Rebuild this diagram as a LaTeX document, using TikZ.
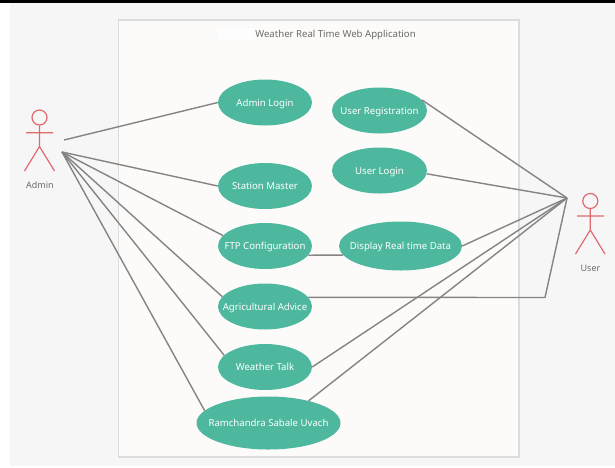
\documentclass[tikz,border=0pt]{standalone}
\usepackage{fontspec}
\setmainfont{Noto Sans}
\usetikzlibrary{shapes.geometric}
\definecolor{teal1}{HTML}{4DB89E}
\definecolor{pagebg}{HTML}{F6F6F7}
\definecolor{boxbg}{HTML}{FCFBFA}
\definecolor{boxline}{HTML}{DDDCDB}
\definecolor{actorred}{HTML}{DF6A6E}
\definecolor{linkgray}{HTML}{858483}
\definecolor{labelgray}{HTML}{6B6B6B}
\newcommand{\uclabel}[1]{\raisebox{-3.8pt}[0pt][0pt]{\makebox[0pt]{#1}}}
\tikzset{
  usecase/.style={ellipse,fill=teal1,text=white,inner sep=0pt,font=\fontsize{9.6}{11}\selectfont},
  link/.style={draw=linkgray,line width=1.4pt,line join=round},
  actorline/.style={draw=actorred,line width=1.2pt},
  caption/.style={text=labelgray,font=\fontsize{9}{11}\selectfont,inner sep=0pt},
}
\begin{document}
\begin{tikzpicture}[x=1pt,y=-1pt]
\useasboundingbox (0,0) rectangle (615,467);
\fill[white] (0,0) rectangle (615,467);
\fill[pagebg] (10,3) rectangle (615,466);
\fill[black] (0,0) rectangle (615,3);
\draw[fill=boxbg,draw=boxline,line width=1.1pt] (118.5,20) rectangle (519,457);
\fill[white!60!boxbg] (218,28) rectangle (255,40);
\node[caption,font=\fontsize{9.6}{11}\selectfont] (title) at (335.5,34.5) {Weather Real Time Web Application};

\node[usecase,minimum width=94pt,minimum height=46pt] (login) at (265,102.5) {\uclabel{Admin Login}};
\node[usecase,minimum width=94pt,minimum height=46pt] (station) at (265,186) {\uclabel{Station Master}};
\node[usecase,minimum width=94pt,minimum height=46pt] (ftp) at (265,246) {\uclabel{FTP Configuration}};
\node[usecase,minimum width=94pt,minimum height=46pt] (agri) at (265,306.5) {\uclabel{Agricultural Advice}};
\node[usecase,minimum width=94pt,minimum height=46pt] (talk) at (265,367) {\uclabel{Weather Talk}};
\node[usecase,minimum width=144pt,minimum height=53pt] (ram) at (268.5,423) {\uclabel{Ramchandra Sabale Uvach}};
\node[usecase,minimum width=95pt,minimum height=46pt] (reg) at (379.5,110.5) {\uclabel{User Registration}};
\node[usecase,minimum width=95pt,minimum height=46pt] (ulogin) at (379.5,170.5) {\uclabel{User Login}};
\node[usecase,minimum width=123pt,minimum height=49pt] (display) at (400.5,246) {\uclabel{Display Real time Data}};

% Admin actor
\node[circle,draw=actorred,line width=1.2pt,minimum size=15pt,inner sep=0pt] (adminhead) at (39.5,117.5) {};
\coordinate (adminhip) at (39.5,146.5);
\coordinate (adminl) at (24.5,171);
\coordinate (adminr) at (54.5,171);
\coordinate (adminal) at (26,132.7);
\coordinate (adminar) at (53,132.7);
\draw[actorline] (adminhead.south) -- (adminhip) (adminl) -- (adminhip) -- (adminr) (adminal) -- (adminar);
\node[caption] (adminlabel) at (40,185) {Admin};

% User actor
\node[circle,draw=actorred,line width=1.2pt,minimum size=15pt,inner sep=0pt] (userhead) at (590.3,201) {};
\coordinate (userhip) at (590.3,230);
\coordinate (userl) at (575.5,254);
\coordinate (userr) at (605,254);
\coordinate (useral) at (577,216);
\coordinate (userar) at (604,216);
\draw[actorline] (userhead.south) -- (userhip) (userl) -- (userhip) -- (userr) (useral) -- (userar);
\node[caption] (userlabel) at (590.5,268) {User};

% Connector ends
\coordinate (a1) at (64,140);
\coordinate (a2) at (62,152);
\coordinate (u) at (567,198);
\coordinate (bend) at (545,297.5);

\draw[link] (a1) -- (login.west);
\draw[link] (a2) -- (station.west);
\draw[link] (a2) -- (ftp.166);
\draw[link] (a2) -- (agri.167);
\draw[link] (a2) -- (talk.164);
\draw[link] (a2) -- (ram.169);

\draw[link] (reg.14) -- (u);
\draw[link] (ulogin.356) -- (u);
\draw[link] (display.east) -- (u);
\draw[link] (agri.12) -- (bend) -- (u);
\draw[link] (talk.east) -- (u);
\draw[link] (ram.29) -- (u);
\draw[link] (ftp.348) -- (display.189);
\end{tikzpicture}
\end{document}
